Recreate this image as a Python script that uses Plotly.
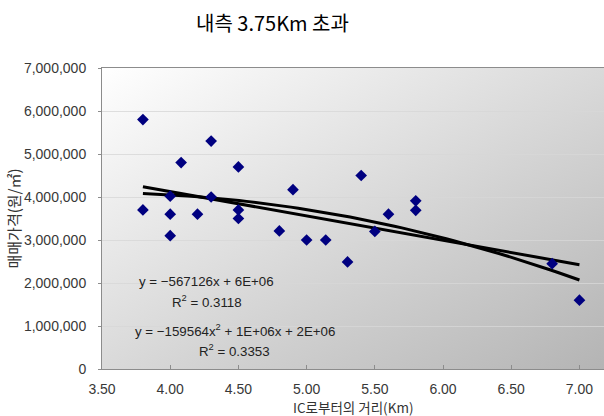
import base64
import numpy as np
import plotly.graph_objects as go

title_text = "내측 3.75Km 초과"
x_title = "IC로부터의 거리(Km)"
y_title = "매매가격(원/㎡)"

distance_km = [3.8, 3.8, 4.0, 4.0, 4.0, 4.08, 4.2, 4.3, 4.3, 4.5, 4.5, 4.5,
               4.8, 4.9, 5.0, 5.14, 5.3, 5.4, 5.5, 5.6, 5.8, 5.8, 6.8, 7.0]
price = [5800000, 3700000, 4020000, 3600000, 3100000, 4800000, 3600000, 5300000,
         4000000, 4700000, 3700000, 3500000, 3210000, 4170000, 3000000, 3000000,
         2490000, 4500000, 3200000, 3600000, 3910000, 3690000, 2450000, 1600000]

x_ticks = [3.5, 4.0, 4.5, 5.0, 5.5, 6.0, 6.5, 7.0]
y_ticks = [0, 1000000, 2000000, 3000000, 4000000, 5000000, 6000000, 7000000]

# trendline coefficients (line end positions)
linear_coef = [-567126, 6395000]
quad_coef = [-159564, 1095200, 2222000]

eq_linear = "y = −567126x + 6E+06"
r2_linear = "R<sup>2</sup> = 0.3118"
eq_quad = "y = −159564x<sup>2</sup> + 1E+06x + 2E+06"
r2_quad = "R<sup>2</sup> = 0.3353"

xs = np.array(distance_km)
xfit = np.linspace(xs.min(), xs.max(), 60)

fig = go.Figure()
fig.add_trace(go.Scatter(x=xfit, y=np.polyval(linear_coef, xfit), mode="lines",
                         line=dict(color="black", width=3), hoverinfo="skip"))
fig.add_trace(go.Scatter(x=xfit, y=np.polyval(quad_coef, xfit), mode="lines",
                         line=dict(color="black", width=3), hoverinfo="skip"))
fig.add_trace(go.Scatter(x=distance_km, y=price, mode="markers", xaxis="x2", yaxis="y2",
                         marker=dict(symbol="diamond", size=9, color="#000080",
                                     line=dict(width=0))))

svg = ('<svg xmlns="http://www.w3.org/2000/svg" width="100" height="100" preserveAspectRatio="none">'
       '<defs><linearGradient id="g" x1="0" y1="0" x2="1" y2="1">'
       '<stop offset="0" stop-color="#ffffff"/><stop offset="1" stop-color="#b4b4b4"/>'
       '</linearGradient></defs><rect width="100" height="100" fill="url(#g)"/></svg>')
src = "data:image/svg+xml;base64," + base64.b64encode(svg.encode()).decode()

tick_font = dict(family="Liberation Sans, Arial, sans-serif", size=14, color="#383838")
ann_font = dict(family="Liberation Sans, Arial, sans-serif", size=13.3, color="#222222")

fig.update_layout(
    width=604, height=416,
    margin=dict(l=102, r=0, t=68, b=47),
    paper_bgcolor="white",
    plot_bgcolor="rgba(0,0,0,0)",
    showlegend=False,
    images=[dict(source=src, xref="paper", yref="paper", x=0, y=1, sizex=1, sizey=1,
                 sizing="stretch", layer="below", xanchor="left", yanchor="top")],
    # label axes (transparent ticks used as spacing)
    xaxis=dict(range=[3.5, 7.18], tickvals=x_ticks, ticktext=[f"{v:.2f}" for v in x_ticks],
               showgrid=False, zeroline=False, showline=True, linecolor="#8c8c8c",
               linewidth=1, mirror=True, ticks="outside", ticklen=7,
               tickcolor="rgba(0,0,0,0)", tickfont=tick_font),
    yaxis=dict(range=[0, 7000000], tickvals=y_ticks, ticktext=[f"{v:,}" for v in y_ticks],
               showgrid=True, gridcolor="rgba(215,215,215,0.8)", gridwidth=1,
               zeroline=False, showline=True, linecolor="#8c8c8c", linewidth=1,
               mirror=True, ticks="outside", ticklen=12, tickcolor="rgba(0,0,0,0)",
               tickfont=tick_font),
    # tick-mark axes
    xaxis2=dict(overlaying="x", matches="x", anchor="y2", side="bottom",
                tickvals=x_ticks, showticklabels=False, showgrid=False, zeroline=False,
                showline=False, ticks="inside", ticklen=4, tickcolor="#8c8c8c"),
    yaxis2=dict(overlaying="y", matches="y", anchor="x2", side="left",
                tickvals=y_ticks, showticklabels=False, showgrid=False, zeroline=False,
                showline=False, ticks="outside", ticklen=3, tickcolor="#8c8c8c"),
    annotations=[
        dict(text=title_text, xref="paper", yref="paper", x=(272 - 102) / 502, y=1.0,
             yshift=68 - 22, showarrow=False, xanchor="center", yanchor="middle",
             font=dict(family="Noto Sans CJK KR", size=20, color="black")),
        dict(text=x_title, xref="paper", yref="paper", x=0.5, y=0, yshift=-37.5,
             showarrow=False, xanchor="center", yanchor="middle",
             font=dict(family="Noto Sans CJK KR", size=13.5, color="#333333")),
        dict(text=y_title, xref="paper", yref="paper", x=0, xshift=-89, y=0.5,
             textangle=-90, showarrow=False, xanchor="center", yanchor="middle",
             font=dict(family="Noto Sans CJK KR", size=15, color="#333333")),
        dict(text=eq_linear, xref="x", yref="y", x=3.5 + (206 - 101.7) / 136.6,
             y=(369 - 281.7) / 43.04 * 1e6, showarrow=False, font=ann_font),
        dict(text=r2_linear, xref="x", yref="y", x=3.5 + (207 - 101.7) / 136.6,
             y=(369 - 301) / 43.04 * 1e6, showarrow=False, font=ann_font),
        dict(text=eq_quad, xref="x", yref="y", x=3.5 + (235 - 101.7) / 136.6,
             y=(369 - 330) / 43.04 * 1e6, showarrow=False, font=ann_font),
        dict(text=r2_quad, xref="x", yref="y", x=3.5 + (234 - 101.7) / 136.6,
             y=(369 - 350) / 43.04 * 1e6, showarrow=False, font=ann_font),
    ],
)

fig.write_html("out.html")
